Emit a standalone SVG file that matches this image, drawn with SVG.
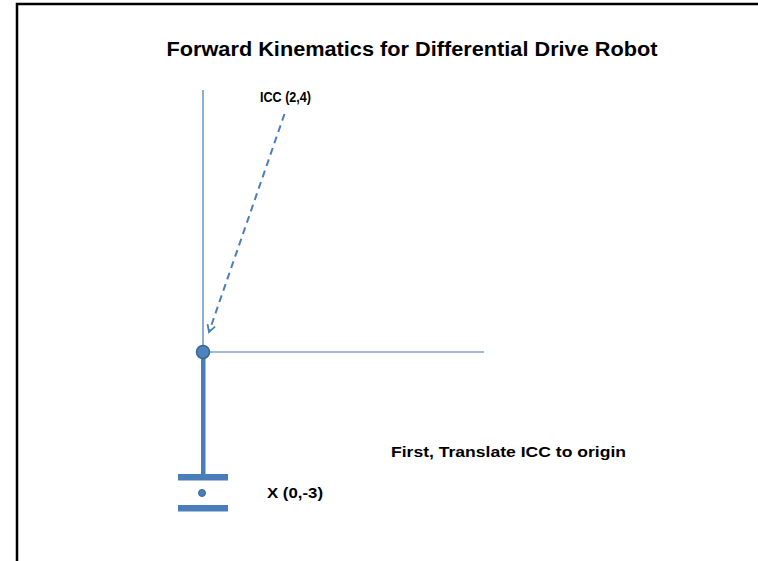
<svg xmlns="http://www.w3.org/2000/svg" width="758" height="561" viewBox="0 0 758 561">
  <style>
    .lbl { font-family: "Liberation Sans", Arial, sans-serif; font-weight: bold; fill: #000; }
    .axis { stroke: #4277b8; stroke-width: 1.2; fill: none; }
    .part { fill: #4a7ebb; }
  </style>
  <defs>
    <marker id="arrow" markerWidth="10" markerHeight="10" refX="8" refY="5" orient="auto" markerUnits="userSpaceOnUse">
      <path d="M1,1 L8,5 L1,9" fill="none" stroke="#4a7ebb" stroke-width="1.8"/>
    </marker>
  </defs>
  <rect width="758" height="561" fill="#fff"/>
  <!-- frame -->
  <path d="M17,561 V4 H758" fill="none" stroke="#000" stroke-width="2.5"/>

  <text class="lbl" x="412" y="56" font-size="19.5" text-anchor="middle" textLength="491" lengthAdjust="spacingAndGlyphs">Forward Kinematics for Differential Drive Robot</text>

  <g id="axes">
    <line class="axis" x1="203" y1="90" x2="203" y2="352"/>
    <line class="axis" x1="203" y1="352" x2="484" y2="352"/>
  </g>

  <g id="robot">
    <rect class="part" x="201" y="352" width="4.5" height="123"/>
    <rect class="part" x="178" y="474" width="50" height="6.5"/>
    <rect class="part" x="178" y="505" width="50" height="6.5"/>
    <circle cx="202" cy="493" r="3.5" fill="#4a7ebb" stroke="#3a6699" stroke-width="1"/>
    <circle cx="203" cy="352" r="6.5" fill="#4f81bd" stroke="#3a6699" stroke-width="1.5"/>
  </g>

  <g id="connectors">
    <line x1="284.5" y1="114" x2="209" y2="332" stroke="#4a7ebb" stroke-width="2" stroke-dasharray="7,5" marker-end="url(#arrow)"/>
  </g>

  <g id="labels">
    <text class="lbl" x="260" y="102" font-size="15.5" textLength="51" lengthAdjust="spacingAndGlyphs">ICC (2,4)</text>
    <text class="lbl" x="267" y="498" font-size="15.5" textLength="56" lengthAdjust="spacingAndGlyphs">X (0,-3)</text>
    <text class="lbl" x="391" y="457" font-size="15.5" textLength="235" lengthAdjust="spacingAndGlyphs">First, Translate ICC to origin</text>
  </g>
</svg>
